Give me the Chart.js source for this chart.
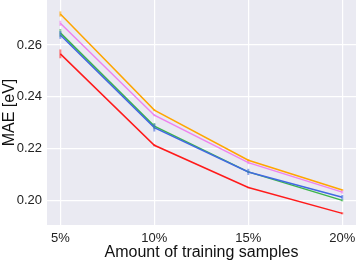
<!DOCTYPE html>
<html><head><meta charset="utf-8">
<script src="https://cdn.jsdelivr.net/npm/chart.js@4"></script>
<style>html,body{margin:0;padding:0;background:#fff}#wrap{width:356px;height:262px;position:relative}</style>
</head><body><div id="wrap"><canvas id="c"></canvas></div>
<script>
const categories = ["5%", "10%", "15%", "20%"];
const xValues = [5, 10, 15, 20];
const yTicks = [0.20, 0.22, 0.24, 0.26];
const orange = [0.2720, 0.2349, 0.2155, 0.2040];
const violet = [0.2684, 0.2329, 0.2146, 0.2032];
const green = [0.2647, 0.2287, 0.2110, 0.2000];
const blue = [0.2639, 0.2281, 0.2110, 0.2012];
const red = [0.2566, 0.2213, 0.2050, 0.1950];
const orangeErr = [0.0010, 0.0004, 0.0005, 0.0004];
const violetErr = [0.0010, 0.0004, 0.0006, 0.0006];
const greenErr = [0.0015, 0.0012, 0.0004, 0.0004];
const blueErr = [0.0015, 0.0015, 0.0012, 0.0009];
const redErr = [0.0017, 0.0004, 0.0003, 0.0004];

function pts(arr){ return arr.map((v,i)=>({x:xValues[i], y:v})); }
// first listed is drawn on top
const series = [
  {data: red, err: redErr, color: '#FF1A1A', errColor: 'rgba(255,26,26,0.55)'},
  {data: blue, err: blueErr, color: '#4169E1', errColor: 'rgba(65,105,225,0.6)'},
  {data: green, err: greenErr, color: '#3CB44B', errColor: 'rgba(60,180,75,0.55)'},
  {data: violet, err: violetErr, color: '#EE82EE', errColor: 'rgba(238,130,238,0.6)'},
  {data: orange, err: orangeErr, color: '#FFA500', errColor: 'rgba(255,165,0,0.6)'}
];

const bgPlugin = {
  id: 'bg',
  beforeDraw(chart){
    const {ctx, chartArea:a} = chart;
    ctx.save(); ctx.fillStyle = '#EAEAF2';
    ctx.fillRect(a.left, a.top, a.right-a.left, a.bottom-a.top);
    ctx.restore();
  }
};
const errPlugin = {
  id: 'err',
  afterDatasetsDraw(chart){
    const ctx = chart.ctx, xs = chart.scales.x, ys = chart.scales.y;
    ctx.save();
    chart.data.datasets.slice().reverse().forEach(ds => {
      ctx.strokeStyle = ds.errColor; ctx.lineWidth = 2;
      ds.data.forEach((p,i) => {
        const e = ds.errors[i];
        const px = xs.getPixelForValue(p.x);
        ctx.beginPath();
        ctx.moveTo(px, ys.getPixelForValue(p.y - e));
        ctx.lineTo(px, ys.getPixelForValue(p.y + e));
        ctx.stroke();
      });
    });
    ctx.restore();
  }
};

new Chart(document.getElementById('c'), {
  type: 'line',
  data: {
    datasets: series.map(s => ({
      data: pts(s.data), errors: s.err, errColor: s.errColor, borderColor: s.color, backgroundColor: s.color,
      borderWidth: 1.5, pointRadius: 0, tension: 0, fill: false
    }))
  },
  options: {
    responsive: true, maintainAspectRatio: false, animation: false,
    layout: {padding: 0},
    plugins: {legend: {display: false}, tooltip: {enabled: false}},
    scales: {
      x: {
        type: 'linear', min: 4.29, max: 20.73,
        afterBuildTicks(s){ s.ticks = xValues.map(v => ({value: v})); },
        afterFit(s){ s.height = 37; s.paddingLeft = 0; s.paddingRight = 0; },
        grid: {color: '#FFFFFF', lineWidth: 1.2, drawTicks: false},
        border: {display: false},
        ticks: {padding: 6, color: '#222', font: {family: 'Liberation Sans', size: 13},
          callback: (v) => categories[xValues.indexOf(v)] ?? ''},
        title: {display: true, text: 'Amount of training samples', color: '#111',
          font: {family: 'Liberation Sans', size: 16}, padding: {top: 0, bottom: 0}}
      },
      y: {
        min: 0.1905, max: 0.2774,
        afterBuildTicks(s){ s.ticks = yTicks.map(v => ({value: v})); },
        afterFit(s){ s.width = 47; s.paddingTop = 0; s.paddingBottom = 0; },
        grid: {color: '#FFFFFF', lineWidth: 1.2, drawTicks: false},
        border: {display: false},
        ticks: {padding: 5, color: '#222', font: {family: 'Liberation Sans', size: 13},
          callback: (v) => v.toFixed(2)},
        title: {display: true, text: 'MAE [eV]', color: '#111',
          font: {family: 'Liberation Sans', size: 16}, padding: {top: 0, bottom: 0}}
      }
    }
  },
  plugins: [bgPlugin, errPlugin]
});
</script></body></html>
